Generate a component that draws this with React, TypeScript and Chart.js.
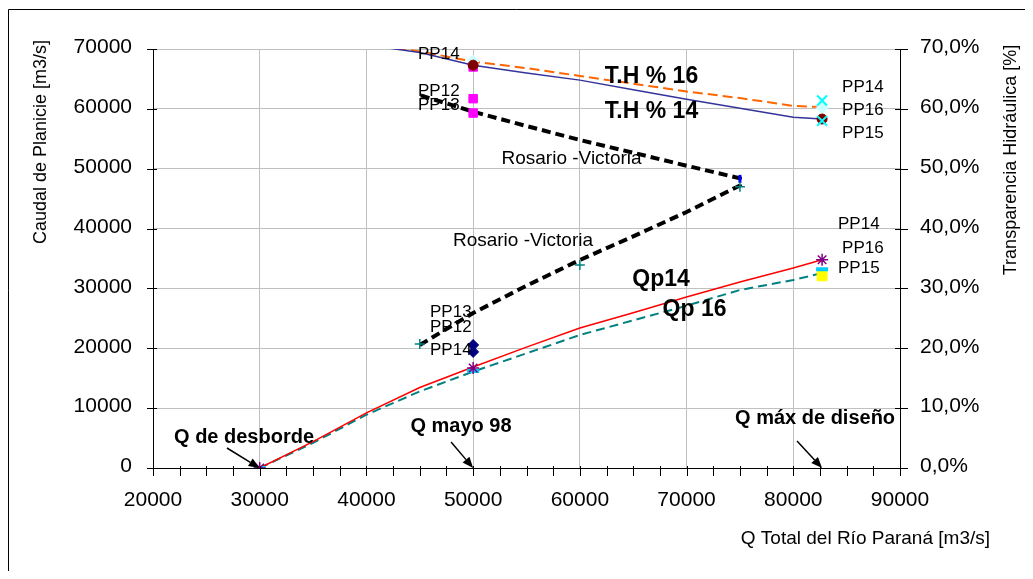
import React, { useEffect, useRef } from 'react';
import { Chart, registerables } from 'chart.js';

Chart.register(...registerables);

// ---------- data ----------
// Q total del Río Paraná [m3/s] for the discharge curves
const qTotal = [30000, 35000, 40000, 45000, 50000, 55000, 60000, 65000, 70000, 75000, 80000, 82700];
const qp14 = [0, 4400, 9200, 13450, 16870, 20200, 23390, 25950, 28570, 31070, 33410, 34800];
const qp16 = [0, 4200, 8900, 12800, 16100, 19160, 22220, 24670, 27110, 29740, 31410, 32580];

// Transparencia hidráulica [%]
const qTH = [40000, 45000, 50000, 55000, 60000, 65000, 70000, 75000, 80000, 82700];
const th14 = [70.7, 69.4, 67.3, 66.0, 64.8, 63.2, 61.6, 60.1, 58.6, 58.3];
const th16 = [70.8, 69.6, 67.9, 66.8, 65.5, 64.2, 62.9, 61.8, 60.5, 60.3];

// Rosario - Victoria
const qRosario = [45000, 50000, 55000, 60000, 65000, 70000, 75000, 75000, 70000, 65000, 60000, 55000, 50000, 45000];
const rosario = [20550, 25900, 30450, 34750, 38690, 42770, 47200, 48400, 50500, 52670, 54800, 57130, 59530, 62300];

// point markers (PP)
const magentaX = [50000, 50000, 50000];
const magentaY = [67.0, 61.7, 59.3]; // %
const darkRedX = [50000, 82700];
const darkRedY = [67.3, 58.3]; // %
const paleCyanX = [50000, 82700];
const paleCyanY = [68.0, 60.2]; // %
const cyanXX = [82700, 82700];
const cyanXY = [61.4, 58.0]; // %
const navyX = [50000, 50000];
const navyY = [20550, 19400];
const starX = [30000, 50000, 82700];
const starY = [0, 16700, 34800];
const cyanBarX = [30000, 50000, 82700];
const cyanBarY = [0, 16200, 33200];
const yellowX = [82700];
const yellowY = [32100];
const tealPlusX = [45000, 60000, 75000];
const tealPlusY = [20700, 33900, 47000];
const blueBarX = [75000];
const blueBarY = [48300];

// tick labels
const leftTicks = [0, 10000, 20000, 30000, 40000, 50000, 60000, 70000];
const rightTicks = [0, 10, 20, 30, 40, 50, 60, 70];
const xTicks = [20000, 30000, 40000, 50000, 60000, 70000, 80000, 90000];

// annotations (positions in chart data units: x, left axis y)
const bigText = ['T.H % 16', 'T.H % 14', 'Qp14', 'Qp 16'];
const bigTextX = [66716, 66716, 67610, 70750];
const bigTextY = [65370, 59520, 31410, 26400];

const rvText = ['Rosario -Victoria', 'Rosario -Victoria'];
const rvTextX = [59220, 54670];
const rvTextY = [51620, 37950];

const qText = ['Q de desborde', 'Q mayo 98', 'Q máx de diseño'];
const qTextX = [28530, 48860, 82040];
const qTextY = [5180, 6930, 8350];
const arrowTailX = [26930, 47930, 80350];
const arrowTailY = [3340, 4340, 4510];
const arrowTipX = [30000, 50000, 82700];
const arrowTipY = [0, 0, 0];

const ppText = ['PP14', 'PP12', 'PP13', 'PP13', 'PP12', 'PP14', 'PP14', 'PP16', 'PP15', 'PP14', 'PP16', 'PP15'];
const ppTextX = [44834, 44834, 44834, 45958, 45958, 45958, 84570, 84570, 84570, 84190, 84570, 84190];
const ppTextY = [69130, 62860, 60510, 25980, 23520, 19580, 63650, 59810, 55960, 40760, 36750, 33410];

const FONT = '"Liberation Sans", Arial, sans-serif';

const pts = (xs: number[], ys: number[]) => xs.map((x, i) => ({ x, y: ys[i] }));

const overlayPlugin = {
  id: 'overlay',
  afterDraw(chart: any) {
    const { ctx, chartArea, scales } = chart;
    const sx = scales.x;
    const sy = scales.y;
    const sy1 = scales.y1;
    ctx.save();
    // tick marks
    ctx.strokeStyle = '#000';
    ctx.lineWidth = 1;
    ctx.beginPath();
    leftTicks.forEach((v) => {
      const y = Math.round(sy.getPixelForValue(v)) + 0.5;
      ctx.moveTo(chartArea.left - 6, y);
      ctx.lineTo(chartArea.left + 4, y);
    });
    rightTicks.forEach((v) => {
      const y = Math.round(sy1.getPixelForValue(v)) + 0.5;
      ctx.moveTo(chartArea.right - 5, y);
      ctx.lineTo(chartArea.right + 8, y);
    });
    for (let v = 20000; v <= 90000; v += 2500) {
      const x = Math.round(sx.getPixelForValue(v)) + 0.5;
      ctx.moveTo(x, chartArea.bottom - 2);
      ctx.lineTo(x, chartArea.bottom + 8);
    }
    ctx.stroke();

    // frame
    ctx.beginPath();
    ctx.moveTo(0.5, 563);
    ctx.lineTo(0.5, 1.5);
    ctx.lineTo(1017, 1.5);
    ctx.stroke();

    // axis titles
    ctx.fillStyle = '#000';
    ctx.font = `18px ${FONT}`;
    ctx.textAlign = 'center';
    ctx.textBaseline = 'middle';
    ctx.save();
    ctx.translate(33, 134);
    ctx.rotate(-Math.PI / 2);
    ctx.fillText('Caudal de Planicie [m3/s]', 0, 0);
    ctx.restore();
    ctx.save();
    ctx.translate(1003, 152);
    ctx.rotate(-Math.PI / 2);
    ctx.fillText('Transparencia Hidráulica [%]', 0, 0);
    ctx.restore();
    ctx.font = `19px ${FONT}`;
    ctx.textAlign = 'right';
    ctx.fillText('Q Total del Río Paraná [m3/s]', 982, 531);

    // annotations
    ctx.textAlign = 'center';
    ctx.font = `bold 23px ${FONT}`;
    bigText.forEach((t, i) => {
      ctx.fillText(t, sx.getPixelForValue(bigTextX[i]), sy.getPixelForValue(bigTextY[i]));
    });
    ctx.font = `19px ${FONT}`;
    rvText.forEach((t, i) => {
      ctx.fillText(t, sx.getPixelForValue(rvTextX[i]), sy.getPixelForValue(rvTextY[i]));
    });
    ctx.font = `bold 20px ${FONT}`;
    qText.forEach((t, i) => {
      ctx.fillText(t, sx.getPixelForValue(qTextX[i]), sy.getPixelForValue(qTextY[i]));
    });
    ctx.textAlign = 'left';
    ctx.font = `17px ${FONT}`;
    ppText.forEach((t, i) => {
      ctx.fillText(t, sx.getPixelForValue(ppTextX[i]), sy.getPixelForValue(ppTextY[i]));
    });

    // arrows
    ctx.lineWidth = 1.5;
    arrowTipX.forEach((_, i) => {
      const x0 = sx.getPixelForValue(arrowTailX[i]);
      const y0 = sy.getPixelForValue(arrowTailY[i]);
      const x1 = sx.getPixelForValue(arrowTipX[i]);
      const y1 = sy.getPixelForValue(arrowTipY[i]);
      const a = Math.atan2(y1 - y0, x1 - x0);
      const hl = 11;
      const hw = 4.5;
      const bx = x1 - hl * Math.cos(a);
      const by = y1 - hl * Math.sin(a);
      ctx.beginPath();
      ctx.moveTo(x0, y0);
      ctx.lineTo(bx, by);
      ctx.stroke();
      ctx.beginPath();
      ctx.moveTo(x1, y1);
      ctx.lineTo(bx + hw * Math.sin(a), by - hw * Math.cos(a));
      ctx.lineTo(bx - hw * Math.sin(a), by + hw * Math.cos(a));
      ctx.closePath();
      ctx.fill();
    });
    ctx.restore();
  },
};

export default function App() {
  const ref = useRef<HTMLCanvasElement | null>(null);
  useEffect(() => {
    if (!ref.current) return;
    const tickFont = { family: FONT, size: 21 };
    const marker = (data: any[], axis: string, style: string, radius: number, bg: string, border: string, bw: number, rot = 0) => ({
      type: 'scatter',
      data,
      yAxisID: axis,
      showLine: false,
      pointStyle: style,
      pointRadius: radius,
      pointRotation: rot,
      pointBackgroundColor: bg,
      pointBorderColor: border,
      pointBorderWidth: bw,
      backgroundColor: bg,
      borderColor: border,
    });
    const chart = new Chart(ref.current, {
      type: 'scatter',
      data: {
        datasets: [
          marker(pts(cyanXX, cyanXY), 'y1', 'crossRot', 7, '#00FFFF', '#00FFFF', 2),
          marker(pts(darkRedX, darkRedY), 'y1', 'circle', 5, '#800000', '#800000', 1),
          marker(pts(paleCyanX, paleCyanY), 'y1', 'rectRot', 6, '#CCFFFF', '#CCFFFF', 1),
          marker(pts(magentaX, magentaY), 'y1', 'rect', 6, '#FF00FF', '#FF00FF', 1),
          marker(pts(starX, starY), 'y', 'star', 6, '#800080', '#800080', 1.5),
          marker(pts(cyanBarX, cyanBarY), 'y', 'line', 6, '#00CCFF', '#00CCFF', 4),
          marker(pts(yellowX, yellowY), 'y', 'rect', 7, '#FFFF00', '#FFFF00', 1),
          marker(pts(navyX, navyY), 'y', 'rectRot', 5.5, '#000080', '#000080', 1),
          marker(pts(tealPlusX, tealPlusY), 'y', 'cross', 5, '#008080', '#008080', 1.5),
          marker(pts(blueBarX, blueBarY), 'y', 'line', 4, '#0000FF', '#0000FF', 3, 90),
          {
            label: 'Rosario - Victoria',
            data: pts(qRosario, rosario),
            yAxisID: 'y',
            showLine: true,
            borderColor: '#000000',
            borderWidth: 4,
            borderDash: [9, 5],
            pointRadius: 0,
          },
          {
            label: 'Qp14',
            data: pts(qTotal, qp14),
            yAxisID: 'y',
            showLine: true,
            borderColor: '#FF0000',
            borderWidth: 1.5,
            pointRadius: 0,
          },
          {
            label: 'Qp 16',
            data: pts(qTotal, qp16),
            yAxisID: 'y',
            showLine: true,
            borderColor: '#008080',
            borderWidth: 2,
            borderDash: [9, 5],
            pointRadius: 0,
          },
          {
            label: 'T.H % 14',
            data: pts(qTH, th14),
            yAxisID: 'y1',
            showLine: true,
            borderColor: '#333399',
            borderWidth: 1.5,
            pointRadius: 0,
          },
          {
            label: 'T.H % 16',
            data: pts(qTH, th16),
            yAxisID: 'y1',
            showLine: true,
            borderColor: '#FF6600',
            borderWidth: 2,
            borderDash: [10, 5],
            pointRadius: 0,
          },
        ] as any,
      },
      options: {
        animation: false,
        responsive: false,
        layout: { padding: { top: 41, left: 0, right: 0, bottom: 0 }, autoPadding: false } as any,
        plugins: { legend: { display: false }, tooltip: { enabled: false } },
        scales: {
          x: {
            type: 'linear',
            min: 20000,
            max: 90000,
            afterBuildTicks: (s: any) => { s.ticks = xTicks.map((v) => ({ value: v })); },
            ticks: { font: tickFont, color: '#000', padding: 20, maxRotation: 0, autoSkip: false, callback: (v: any) => String(v) },
            grid: { color: '#C0C0C0', drawTicks: false, lineWidth: 1 },
            border: { display: true, color: '#000', width: 1 },
            afterFit: (s: any) => { s.height = 103; },
          },
          y: {
            position: 'left',
            min: 0,
            max: 70000,
            afterBuildTicks: (s: any) => { s.ticks = leftTicks.map((v) => ({ value: v })); },
            ticks: { font: tickFont, color: '#000', padding: 21, labelOffset: -1.5, callback: (v: any) => String(v) },
            grid: { color: '#C0C0C0', drawTicks: false, lineWidth: 1 },
            border: { display: true, color: '#000', width: 1 },
            afterFit: (s: any) => { s.width = 145; },
          },
          y1: {
            position: 'right',
            min: 0,
            max: 70,
            afterBuildTicks: (s: any) => { s.ticks = rightTicks.map((v) => ({ value: v })); },
            ticks: { font: tickFont, color: '#000', padding: 20, labelOffset: -1.5, callback: (v: any) => Number(v).toFixed(1).replace('.', ',') + '%' },
            grid: { drawOnChartArea: false, drawTicks: false },
            border: { display: true, color: '#000', width: 1 },
            afterFit: (s: any) => { s.width = 125; },
          },
        },
      } as any,
      plugins: [overlayPlugin],
    });
    return () => chart.destroy();
  }, []);
  return (
    <div style={{ width: 1017, height: 563 }}>
      <canvas ref={ref} width={1017} height={563} style={{ display: 'block' }} />
    </div>
  );
}
